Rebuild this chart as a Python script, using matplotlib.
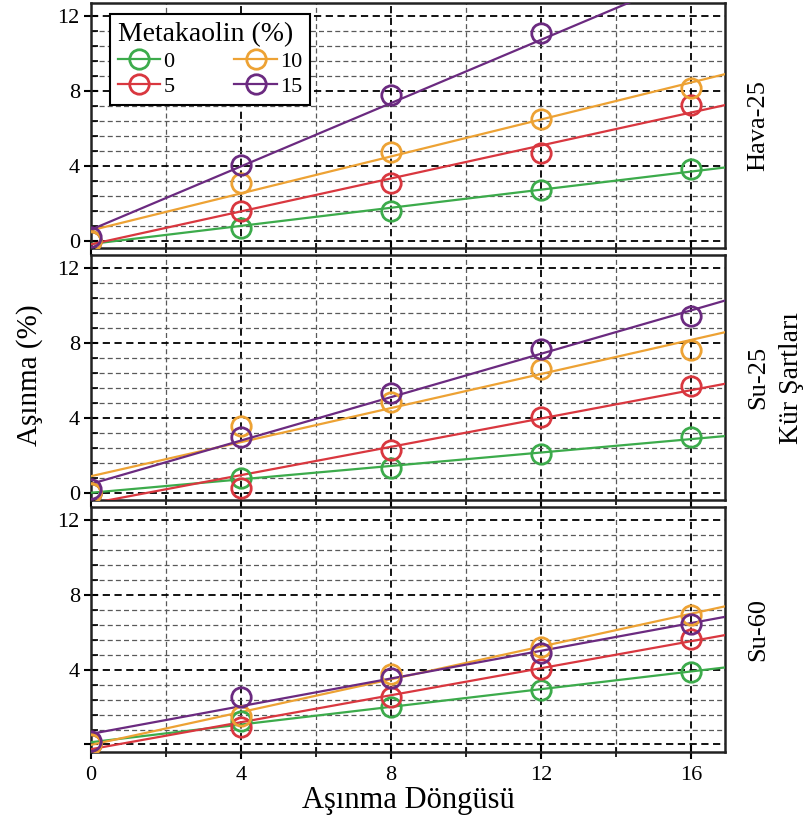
import numpy as np
import matplotlib.pyplot as plt
from matplotlib.lines import Line2D
from matplotlib.ticker import MultipleLocator

plt.rcParams['font.family'] = ['Liberation Serif', 'DejaVu Serif']

# Asinma dongusu (x) and measured wear (%) per curing condition / metakaolin ratio
cycles = [0, 4, 8, 12, 16]
mk_levels = ['0', '5', '10', '15']
conditions = ['Hava-25', 'Su-25', 'Su-60']

hava25 = {
    '0': [0.0, 0.68, 1.56, 2.68, 3.84],
    '5': [0.0, 1.56, 3.10, 4.70, 7.24],
    '10': [0.0, 3.07, 4.73, 6.52, 8.16],
    '15': [0.2, 4.05, 7.80, 11.10, 13.60],
}
su25 = {
    '0': [0.0, 0.78, 1.33, 2.05, 2.95],
    '5': [0.0, 0.25, 2.25, 4.05, 5.67],
    '10': [0.0, 3.57, 4.82, 6.59, 7.60],
    '15': [0.17, 2.95, 5.31, 7.65, 9.42],
}
su60 = {
    '0': [0.0, 1.24, 2.02, 2.92, 3.89],
    '5': [0.0, 0.92, 2.55, 4.06, 5.65],
    '10': [0.0, 1.54, 3.75, 5.21, 6.93],
    '15': [0.2, 2.55, 3.57, 4.90, 6.43],
}
panels = [hava25, su25, su60]

colors = {'0': '#3cab4b', '5': '#d9373f', '10': '#eda234', '15': '#6b2a80'}

xmax = 16.9
ylim = (-0.4, 12.7)

fig = plt.figure(figsize=(8.1, 8.3), dpi=100)
left, width = 0.1123, 0.7827
bottoms = [0.7012, 0.3976, 0.0940]
height = 0.2952

axes = []
for i, (data, cond) in enumerate(zip(panels, conditions)):
    ax = fig.add_axes([left, bottoms[i], width, height])
    axes.append(ax)
    xs = np.array(cycles, dtype=float)
    for mk in mk_levels:
        ys = np.array(data[mk])
        # linear trend line through each series
        slope, icpt = np.polyfit(xs, ys, 1)
        xl = np.array([0, xmax])
        ax.plot(xl, slope * xl + icpt, color=colors[mk], lw=1.6, zorder=3)
        ax.plot(xs, ys, 'o', mfc='none', mec=colors[mk], ms=14, mew=2.0, zorder=4)

    ax.set_xlim(0, xmax)
    ax.set_ylim(*ylim)
    ax.xaxis.set_major_locator(MultipleLocator(4))
    ax.xaxis.set_minor_locator(MultipleLocator(2))
    ax.yaxis.set_major_locator(MultipleLocator(4))
    ax.yaxis.set_minor_locator(MultipleLocator(0.8))
    ax.grid(which='major', color='black', ls=(0, (4, 2.5)), lw=1.3, zorder=1)
    ax.grid(which='minor', color='0.35', ls=(0, (4, 2.5)), lw=0.9, zorder=1)
    ax.set_axisbelow(True)
    for sp in ax.spines.values():
        sp.set_linewidth(1.8)
        sp.set_color('#222222')
    ax.tick_params(axis='y', which='major', direction='inout', length=10, width=1.5, labelsize=16, pad=3)
    ax.tick_params(axis='y', which='minor', direction='in', length=5, width=1.2)
    ax.tick_params(axis='x', which='major', direction='inout', length=10, width=1.5, labelsize=16, pad=5)
    ax.tick_params(axis='x', which='minor', direction='inout', length=7, width=1.2)
    if i < 2:
        ax.tick_params(axis='x', labelbottom=False)
    ax.text(1.053, 0.5, cond, transform=ax.transAxes, rotation=90,
            ha='center', va='center', fontsize=19)

# bottom panel hides its zero label
axes[2].set_yticks([0, 4, 8, 12])
axes[2].set_yticklabels(['', '4', '8', '12'])

axes[2].set_xlabel('Aşınma Döngüsü', fontsize=22, labelpad=1)
fig.text(0.037, 0.548, 'Aşınma (%)', rotation=90, ha='center', va='center', fontsize=21)
fig.text(0.9775, 0.545, 'Kür Şartları', rotation=90, ha='center', va='center', fontsize=20)

handles = [Line2D([], [], color=colors[mk], lw=1.6, marker='o', mfc='none',
                  mec=colors[mk], ms=14, mew=2.0) for mk in mk_levels]
leg = axes[0].legend(handles, mk_levels, title='Metakaolin (%)', ncol=2,
                     loc='upper left', bbox_to_anchor=(0.03, 0.955), borderaxespad=0,
                     fontsize=16, title_fontsize=20, handlelength=1.9,
                     handletextpad=0.15, columnspacing=2.7, labelspacing=0.2,
                     borderpad=0.35, fancybox=False, framealpha=1)
leg.get_frame().set_edgecolor('black')
leg.get_frame().set_linewidth(1.5)
leg._legend_box.align = 'left'

fig.savefig('out.png', dpi=100)
